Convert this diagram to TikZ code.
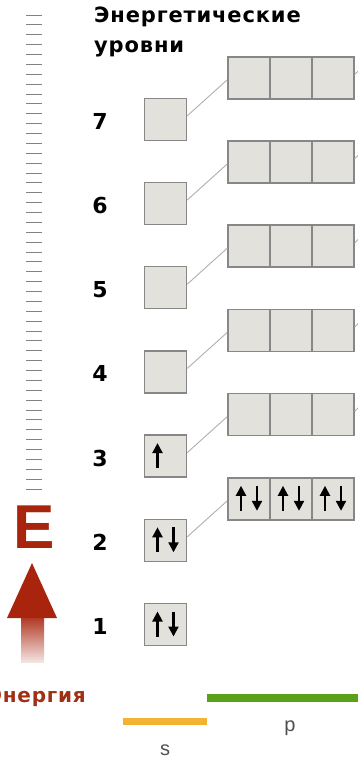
\documentclass[tikz,border=0pt]{standalone}
\usepackage{fontspec}
\usetikzlibrary{arrows.meta}
\newfontfamily\headfont[LetterSpace=4]{DejaVu Sans}
\newfontfamily\labfont{Liberation Sans}
\definecolor{boxfill}{RGB}{227,225,220}
\definecolor{boxline}{RGB}{135,135,135}
\definecolor{linkgray}{RGB}{175,175,175}
\definecolor{tickgray}{RGB}{130,130,130}
\definecolor{ered}{RGB}{168,36,12}
\definecolor{etext}{RGB}{160,48,20}
\definecolor{sorange}{RGB}{243,178,50}
\definecolor{pgreen}{RGB}{90,160,25}
\definecolor{labgray}{RGB}{80,80,80}
\tikzset{
  orb/.style={draw=boxline,fill=boxfill,line width=1.5pt,minimum size=42pt,inner sep=0pt},
  link/.style={draw=linkgray,line width=0.9pt},
  spin/.style={line width=2.2pt,-{Triangle[width=10pt,length=10pt]}},
  tick/.style={draw=tickgray,line width=0.9pt},
  lvl/.style={font=\headfont\bfseries\fontsize{22}{22}\selectfont,inner sep=0pt},
  title/.style={font=\headfont\bfseries\fontsize{21}{30}\selectfont,align=left,inner sep=0pt},
  sublab/.style={font=\labfont\fontsize{20}{20}\selectfont,text=labgray,inner sep=0pt}
}
\begin{document}
\begin{tikzpicture}[x=1pt,y=-1pt]
  \useasboundingbox (0,0) rectangle (358,761);
  \clip (0,0) rectangle (358,761);
  \foreach \i in {0,...,48}{\draw[tick] (26,{15+\i*9.875}) -- (42,{15+\i*9.875});}
  \node[title,anchor=north west] (head) at (94,7) {Энергетические\\уровни};
  \foreach \n in {1,...,7}{
    \pgfmathsetmacro{\ys}{624.5-(\n-1)*84.2}
    \node[orb] (s\n) at (165.5,\ys) {};
    \node[lvl] (n\n) at (100,{\ys+2}) {\n};
  }
  \foreach \n in {2,...,7}{
    \pgfmathsetmacro{\yp}{624.5-(\n-1)*84.2-41.5}
    \foreach \k/\x in {1/249,2/291,3/333}{\node[orb] (p\n-\k) at (\x,\yp) {};}
    \draw[link] ([yshift=3.5pt]s\n.east) -- ([yshift=-2pt]p\n-1.west);
  }
  \foreach \n in {3,...,7}{
    \coordinate (d\n) at ([xshift=39pt,yshift=40.5pt]p\n-3.east);
    \draw[link] ([yshift=3.5pt]p\n-3.east) -- (d\n);
  }
  \foreach \b in {s1,s2,s3,p2-1,p2-2,p2-3}{
    \draw[spin] ([xshift=-8pt,yshift=-12pt]\b.center) -- ([xshift=-8pt,yshift=13pt]\b.center);
  }
  \foreach \b in {s1,s2,p2-1,p2-2,p2-3}{
    \draw[spin] ([xshift=8pt,yshift=13pt]\b.center) -- ([xshift=8pt,yshift=-12pt]\b.center);
  }
  \node[text=ered,font=\labfont\bfseries\fontsize{62}{62}\selectfont,inner sep=0pt] (E) at (34,527) {E};
  \fill[ered] (32,563) -- (57,618) -- (7,618) -- cycle;
  \shade[top color=ered!90!white,bottom color=ered!12!white] (21,618) rectangle (44,662);
  \node[text=etext,font=\headfont\bfseries\fontsize{20}{20}\selectfont,anchor=east,inner sep=0pt] (energ) at (86,697) {Энергия};
  \draw[sorange,line width=7pt] (123,721) -- (207,721);
  \draw[pgreen,line width=8pt] (207,698) -- (362,698);
  \node[sublab,anchor=base] (slab) at (165,755) {s};
  \node[sublab,anchor=base] (plab) at (290,731) {p};
\end{tikzpicture}
\end{document}
